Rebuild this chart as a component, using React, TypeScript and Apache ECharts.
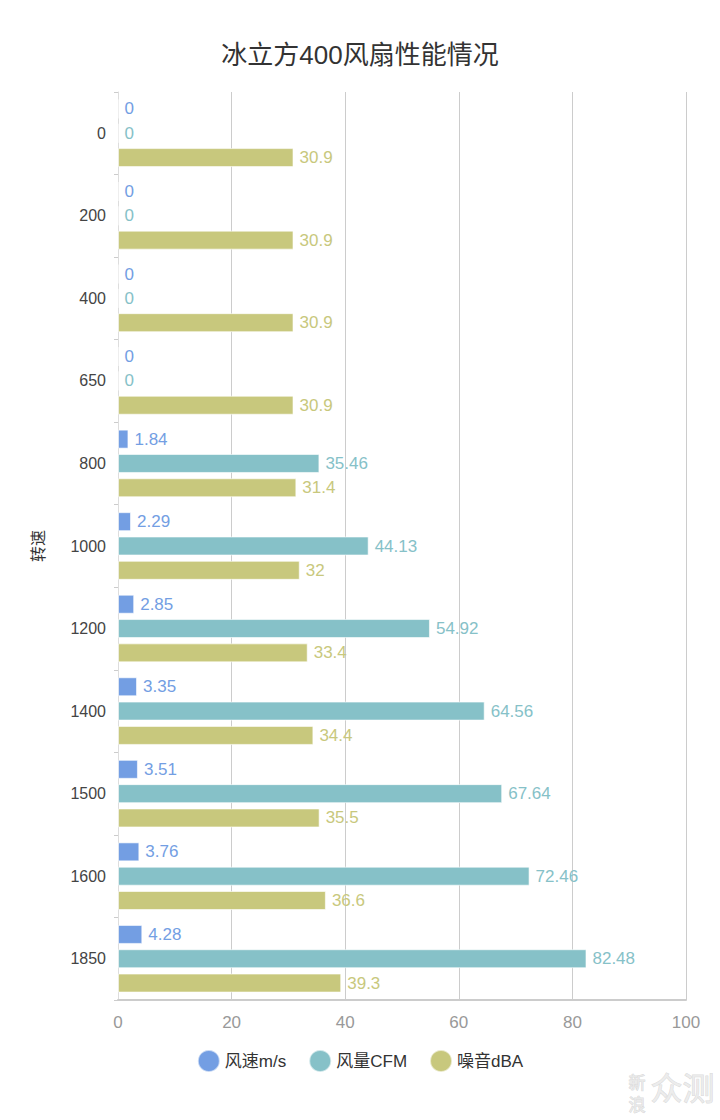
import React, { useEffect, useRef } from "react";
import * as echarts from "echarts";

const categories = ["0", "200", "400", "650", "800", "1000", "1200", "1400", "1500", "1600", "1850"];
const windSpeed = [0, 0, 0, 0, 1.84, 2.29, 2.85, 3.35, 3.51, 3.76, 4.28];
const airflow = [0, 0, 0, 0, 35.46, 44.13, 54.92, 64.56, 67.64, 72.46, 82.48];
const noise = [30.9, 30.9, 30.9, 30.9, 31.4, 32, 33.4, 34.4, 35.5, 36.6, 39.3];
const seriesNames = ["风速m/s", "风量CFM", "噪音dBA"];
const colors = ["#739EE3", "#86C1C8", "#C8C87D"];

const FONT = "'Liberation Sans', 'Noto Sans CJK SC', sans-serif";

export default function App() {
  const ref = useRef<HTMLDivElement>(null);
  useEffect(() => {
    if (!ref.current) return;
    const chart = echarts.init(ref.current, null, { renderer: "svg" });
    const datas = [windSpeed, airflow, noise];
    chart.setOption({
      animation: false,
      backgroundColor: "#ffffff",
      textStyle: { fontFamily: FONT },
      title: {
        text: "冰立方400风扇性能情况",
        left: "center",
        top: 37,
        textStyle: { fontSize: 26, fontWeight: "normal", color: "#333", fontFamily: FONT },
      },
      legend: {
        bottom: 42,
        left: "center",
        icon: "circle",
        itemWidth: 22,
        itemHeight: 22,
        itemGap: 22,
        textStyle: { fontSize: 17, color: "#333", fontFamily: FONT },
        data: seriesNames,
      },
      grid: { left: 118, right: 34, top: 92, bottom: 120, containLabel: false },
      xAxis: {
        type: "value",
        min: 0,
        max: 100,
        interval: 20,
        axisLine: { show: true, lineStyle: { color: "#ccc", width: 2 } },
        axisTick: { show: false },
        axisLabel: { fontSize: 17, color: "#999", margin: 14, fontFamily: FONT },
        splitLine: { show: true, lineStyle: { color: "#ccc", width: 1 } },
      },
      yAxis: {
        type: "category",
        data: categories,
        inverse: true,
        name: "转速",
        nameLocation: "middle",
        nameGap: 72,
        nameTextStyle: { fontSize: 16, color: "#333", fontFamily: FONT },
        axisLine: { show: true, lineStyle: { color: "#ddd", width: 1 } },
        axisTick: { show: true, length: 4, lineStyle: { color: "#ccc" } },
        axisLabel: { fontSize: 16, color: "#444", margin: 12, fontFamily: FONT },
        splitLine: { show: false },
      },
      series: datas.map((d, i) => ({
        name: seriesNames[i],
        type: "bar",
        data: d,
        barWidth: 19,
        barGap: "28%",
        itemStyle: { color: colors[i], borderColor: "rgba(255,255,255,0.6)", borderWidth: 1 },
        label: {
          show: true,
          position: "right",
          distance: 6,
          fontSize: 17,
          color: colors[i],
          fontFamily: FONT,
        },
      })),
      graphic: [
        {
          type: "text",
          left: 628,
          top: 1072,
          style: {
            text: "新\n浪",
            fontSize: 17,
            lineHeight: 22,
            fill: "rgba(235,235,235,0.9)",
            stroke: "rgba(150,150,150,0.35)",
            lineWidth: 1,
            fontFamily: FONT,
          },
        },
        {
          type: "text",
          left: 650,
          top: 1072,
          style: {
            text: "众测",
            fontSize: 32,
            fill: "rgba(235,235,235,0.9)",
            stroke: "rgba(150,150,150,0.35)",
            lineWidth: 1,
            fontFamily: FONT,
          },
        },
      ],
    });
    return () => chart.dispose();
  }, []);
  return (
    <div
      ref={ref}
      style={{ position: "fixed", left: 0, top: 0, width: 720, height: 1120 }}
    />
  );
}
